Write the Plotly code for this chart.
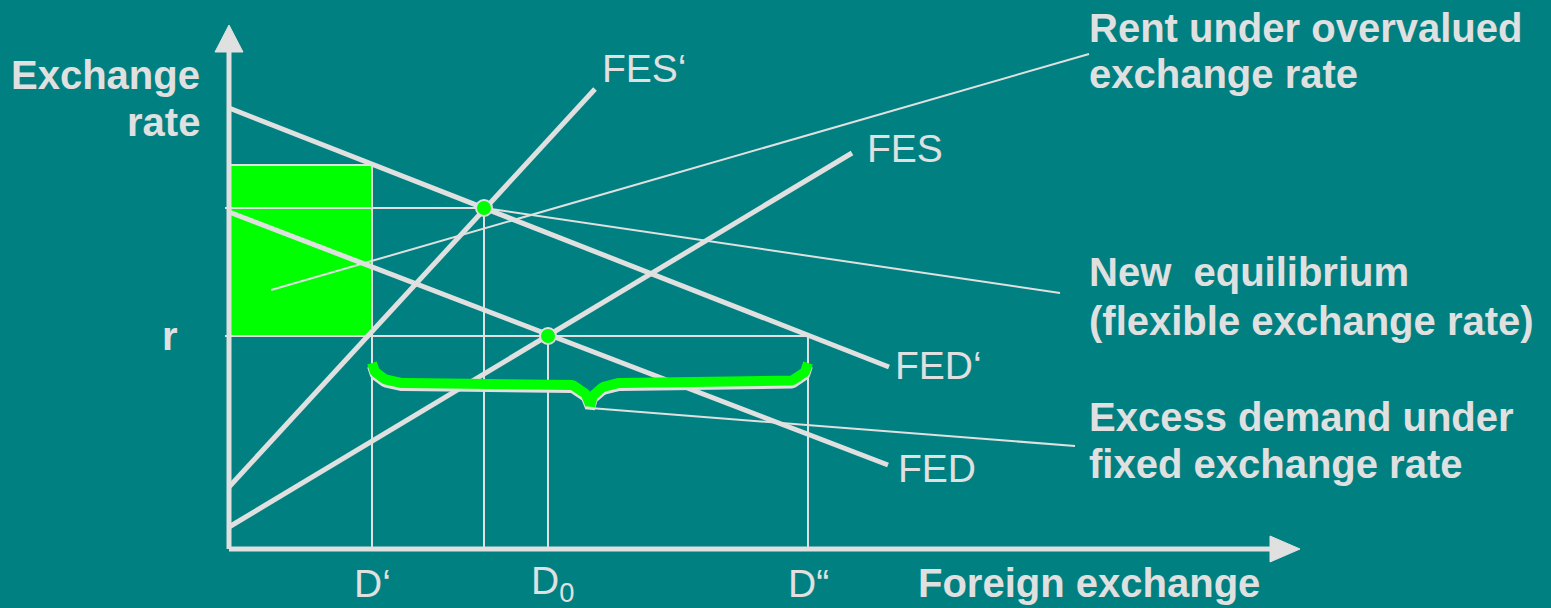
import numpy as np
import plotly.graph_objects as go

# ---------------- data (x: quantity of foreign exchange, y: exchange rate) ----------------
fed_prime_x = [0, 660]
fed_prime_y = [441, 182]
fed_x = [0, 659]
fed_y = [337, 84]
fes_prime_x = [0, 366]
fes_prime_y = [62, 460]
fes_x = [0, 623]
fes_y = [22, 396]

curve_names = ["FES‘", "FES", "FED‘", "FED"]

rate_fixed = 213        # r
rate_new = 341          # new flexible equilibrium rate
rate_rent_top = 384     # rate at which FED' meets D'

q_labels = ["D‘", "D<sub>0</sub>", "D“"]
q_values = [143, 319, 579]
q_new = 255             # quantity at new equilibrium

eq_x = [255, 319]
eq_y = [341, 213]

axis_len_x = 1071
axis_len_y = 524

brace_tip_x = 361

rent_leader_x = [42, 860]
rent_leader_y = [259, 495]
neweq_leader_x = [255, 831]
neweq_leader_y = [341, 256]
excess_leader_x = [361, 846]
excess_leader_y = [141, 103]

note_lines = ["Rent under overvalued", "exchange rate",
              "New  equilibrium", "(flexible exchange rate)",
              "Excess demand under", "fixed exchange rate"]
note_y = [521, 475, 277, 228, 132, 85]
note_x = 858

# ---------------- style ----------------
BG = "#008080"
FG = "#E0E0E0"
GREEN = "#00FF00"
FONT = "Liberation Sans, Arial, sans-serif"

fig = go.Figure()


def line(x, y, w, color=FG):
    fig.add_trace(go.Scatter(x=x, y=y, mode="lines", line=dict(color=color, width=w),
                             hoverinfo="skip", showlegend=False))


# green rent rectangle
fig.add_trace(go.Scatter(x=[0, q_values[0], q_values[0], 0, 0],
                         y=[rate_fixed, rate_fixed, rate_rent_top, rate_rent_top, rate_fixed],
                         mode="lines", fill="toself", fillcolor=GREEN,
                         line=dict(color=FG, width=2), hoverinfo="skip", showlegend=False))

# thin guide lines
line([-4, q_values[2]], [rate_fixed, rate_fixed], 2)
line([-4, q_new], [rate_new, rate_new], 2)
line([q_values[0], q_values[0]], [0, rate_rent_top], 2)
line([q_new, q_new], [0, rate_new], 2)
line([q_values[1], q_values[1]], [0, rate_fixed], 2)
line([q_values[2], q_values[2]], [0, rate_fixed], 2)

# leader lines
line(rent_leader_x, rent_leader_y, 2)
line(neweq_leader_x, neweq_leader_y, 2)
line(excess_leader_x, excess_leader_y, 2)

# supply / demand curves
for xs, ys in [(fes_prime_x, fes_prime_y), (fes_x, fes_y), (fed_prime_x, fed_prime_y), (fed_x, fed_y)]:
    line(xs, ys, 5)

# axes with arrow heads
line([0, 0], [0, axis_len_y - 26], 5)
line([0, axis_len_x - 28], [0, 0], 5)
fig.add_trace(go.Scatter(x=[-14, 14, 0, -14], y=[axis_len_y - 27, axis_len_y - 27, axis_len_y, axis_len_y - 27],
                         mode="lines", fill="toself", fillcolor=FG, line=dict(color=FG, width=1),
                         hoverinfo="skip", showlegend=False))
fig.add_trace(go.Scatter(x=[axis_len_x - 30, axis_len_x - 30, axis_len_x, axis_len_x - 30], y=[-13, 13, 0, -13],
                         mode="lines", fill="toself", fillcolor=FG, line=dict(color=FG, width=1),
                         hoverinfo="skip", showlegend=False))

# curly brace (excess demand) between D' and D''
def brace_path(xl, xr, xt, y_end, y_body, y_tip, rx=32, tx=31):
    t = np.linspace(0, np.pi / 2, 20)
    xs, ys = [], []
    xs += list(xl + rx * (1 - np.cos(t))); ys += list(y_end - (y_end - y_body) * np.sin(t))
    xs += list(xt - tx + tx * np.sin(t)); ys += list(y_body - (y_body - y_tip) * (1 - np.cos(t)))
    xs += list(xt + tx - tx * np.cos(t)); ys += list(y_tip + (y_body - y_tip) * np.sin(t))
    xs += list(xr - rx + rx * np.sin(t)); ys += list(y_body + (y_end - y_body) * (1 - np.cos(t)))
    return np.array(xs), np.array(ys)

bx, by = brace_path(q_values[0], q_values[2], brace_tip_x, rate_fixed - 27, rate_fixed - 47, rate_fixed - 70)
line(bx, by - 3, 10)
line(bx, by, 10, GREEN)

# equilibrium points
fig.add_trace(go.Scatter(x=eq_x, y=eq_y, mode="markers",
                         marker=dict(color=GREEN, size=16, line=dict(color=FG, width=2)),
                         hoverinfo="skip", showlegend=False))

# ---------------- text ----------------
def txt(x, y, s, size=39, bold=False, xanchor="left", xshift=0, yshift=0):
    fig.add_annotation(x=x, y=y, text=f"<b>{s}</b>" if bold else s, showarrow=False,
                       xanchor=xanchor, yanchor="middle", xshift=xshift, yshift=yshift,
                       font=dict(family=FONT, size=size, color=FG))

# curve labels at curve ends
txt(fes_prime_x[1], fes_prime_y[1], curve_names[0], xshift=5, yshift=21)
txt(fes_x[1], fes_y[1], curve_names[1], xshift=13, yshift=5)
txt(fed_prime_x[1], fed_prime_y[1], curve_names[2], xshift=4, yshift=2)
txt(fed_x[1], fed_y[1], curve_names[3], xshift=8, yshift=-3)

# axis labels
txt(-27, 474, "Exchange", size=40, bold=True, xanchor="right")
txt(-27, 427, "rate", size=40, bold=True, xanchor="right")
txt(-59, rate_fixed, "r", size=40, bold=True, xanchor="center")
txt(687, -34, "Foreign exchange", size=40, bold=True)
for qx, ql in zip(q_values, q_labels):
    txt(qx, -34, ql, xanchor="center", xshift=4 if "sub" in ql else 0)

# notes
for yv, s in zip(note_y, note_lines):
    txt(note_x, yv, s, size=40, bold=True)

fig.update_layout(
    width=1551, height=608, autosize=False,
    margin=dict(l=0, r=0, t=0, b=0),
    paper_bgcolor=BG, plot_bgcolor=BG,
    xaxis=dict(range=[-229, 1322], visible=False, fixedrange=True),
    yaxis=dict(range=[-59, 549], visible=False, fixedrange=True),
    showlegend=False,
)

fig.write_html("out.html", config={"displayModeBar": False},
               post_script="document.body.style.margin='0';document.body.style.padding='0';"
                           "document.body.style.overflow='hidden';document.body.style.background='#008080';")
